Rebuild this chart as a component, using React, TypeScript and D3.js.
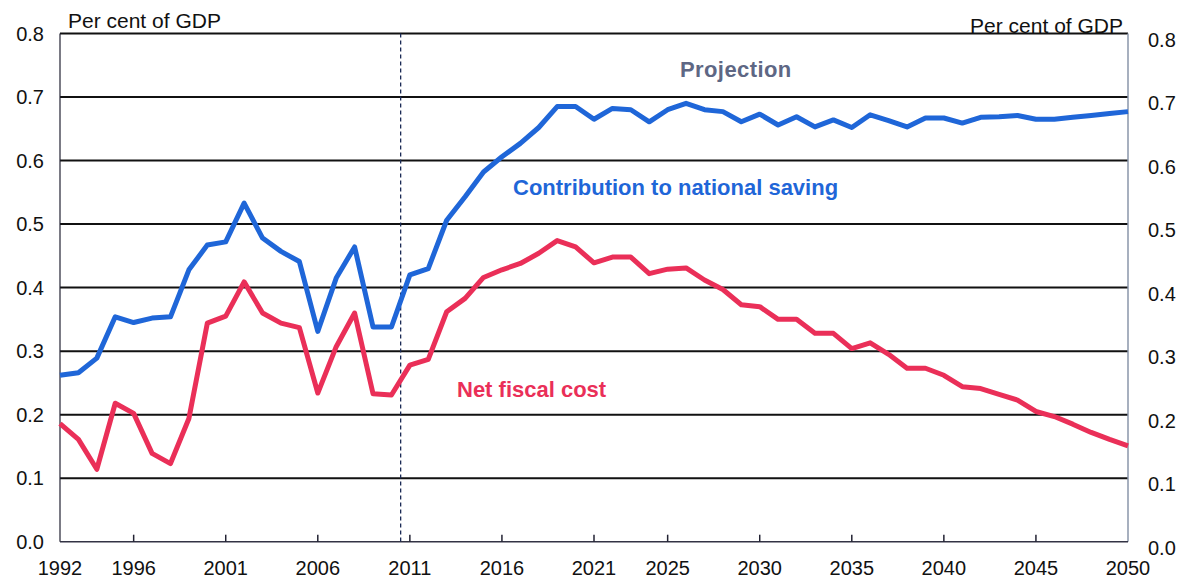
import React from "react";
import * as d3 from "d3";

// Financial years, 1992 to 2050
const years: number[] = d3.range(1992, 2051);

const nationalSaving: number[] = [
  0.262, 0.266, 0.289, 0.354, 0.345, 0.352, 0.354, 0.428, 0.467, 0.472,
  0.533, 0.478, 0.457, 0.441, 0.331, 0.415, 0.464, 0.338, 0.338, 0.42,
  0.43, 0.506, 0.543, 0.582, 0.606, 0.627, 0.652, 0.685, 0.685, 0.665,
  0.682, 0.68, 0.661, 0.68, 0.69, 0.68, 0.677, 0.661, 0.673, 0.656,
  0.669, 0.653, 0.664, 0.652, 0.672, 0.663, 0.653, 0.667, 0.667, 0.659,
  0.668, 0.669, 0.671, 0.665, 0.665, 0.668, 0.671, 0.674, 0.677,
];

const netFiscalCost: number[] = [
  0.186, 0.161, 0.114, 0.218, 0.202, 0.139, 0.123, 0.194, 0.344, 0.355,
  0.409, 0.36, 0.344, 0.337, 0.234, 0.307, 0.36, 0.233, 0.231, 0.278,
  0.287, 0.362, 0.383, 0.416, 0.428, 0.438, 0.454, 0.474, 0.464, 0.439,
  0.448, 0.448, 0.422, 0.429, 0.431, 0.412, 0.397, 0.373, 0.37, 0.35,
  0.35, 0.328, 0.328, 0.304, 0.313, 0.295, 0.273, 0.273, 0.262, 0.244,
  0.241, 0.232, 0.223, 0.205, 0.197, 0.185, 0.172, 0.161, 0.151,
];

const xTicks: number[] = [
  1992, 1996, 2001, 2006, 2011, 2016, 2021, 2025, 2030, 2035, 2040, 2045, 2050,
];
const yTicks: number[] = [0, 0.1, 0.2, 0.3, 0.4, 0.5, 0.6, 0.7, 0.8];
const projectionStart = 2010.5;

const W = 1187;
const H = 585;
const FONT = "'Liberation Sans', Arial, sans-serif";
const BLUE = "#1f66d8";
const RED = "#ea2f58";

export default function App() {
  const x = d3.scaleLinear().domain([1992, 2050]).range([60, 1128]);
  const y = d3.scaleLinear().domain([0, 0.8]).range([541.7, 33.5]);

  const line = d3
    .line<number>()
    .x((_, i) => x(years[i]))
    .y((d) => y(d));

  const left = x(1992);
  const right = x(2050);
  const bottom = y(0);
  const top = y(0.8);

  return (
    <div style={{ position: "absolute", left: 0, top: 0 }}>
      <svg width={W} height={H} style={{ display: "block", background: "#fff" }}>
        {/* horizontal grid lines */}
        {yTicks
          .filter((t) => t > 0)
          .map((t) => (
            <line
              key={t}
              x1={left}
              x2={right}
              y1={y(t)}
              y2={y(t)}
              stroke="#111"
              strokeWidth={2}
            />
          ))}

        {/* frame */}
        <line x1={left} x2={left} y1={top} y2={bottom} stroke="#223" strokeWidth={1.2} />
        <line x1={right} x2={right} y1={top} y2={bottom} stroke="#8a96aa" strokeWidth={1.5} />
        <line x1={left} x2={right} y1={bottom} y2={bottom} stroke="#334" strokeWidth={1.5} />

        {/* x ticks */}
        {xTicks
          .filter((t) => t !== 1992 && t !== 2050)
          .map((t) => (
            <line
              key={t}
              x1={x(t)}
              x2={x(t)}
              y1={bottom}
              y2={bottom - 7}
              stroke="#223"
              strokeWidth={1.5}
            />
          ))}

        {/* projection divider */}
        <line
          x1={x(projectionStart)}
          x2={x(projectionStart)}
          y1={top}
          y2={bottom}
          stroke="#1a2a55"
          strokeWidth={1.3}
          strokeDasharray="4,3"
        />

        {/* series */}
        <path
          d={line(netFiscalCost) ?? ""}
          fill="none"
          stroke={RED}
          strokeWidth={5}
          strokeLinejoin="round"
        />
        <path
          d={line(nationalSaving) ?? ""}
          fill="none"
          stroke={BLUE}
          strokeWidth={5}
          strokeLinejoin="round"
        />

        {/* tick labels */}
        <g fontFamily={FONT} fontSize={20} fill="#111">
          {yTicks.map((t) => (
            <text key={"l" + t} x={44} y={y(t)} dy="0.36em" textAnchor="end">
              {t.toFixed(1)}
            </text>
          ))}
          {yTicks.map((t) => (
            <text key={"r" + t} x={1148} y={y(t) + 6} dy="0.36em" textAnchor="start">
              {t.toFixed(1)}
            </text>
          ))}
          {xTicks.map((t) => (
            <text key={"x" + t} x={x(t)} y={575} textAnchor="middle">
              {t}
            </text>
          ))}
        </g>

        {/* axis titles */}
        <g fontFamily={FONT} fontSize={21} fill="#111">
          <text x={68} y={28}>
            Per cent of GDP
          </text>
          <text x={1123} y={33} textAnchor="end">
            Per cent of GDP
          </text>
        </g>

        {/* annotations */}
        <g fontFamily={FONT} fontSize={22} fontWeight="bold">
          <text x={680} y={77} fill="#5e6784" letterSpacing={0.4}>
            Projection
          </text>
          <text x={513} y={195} fill={BLUE}>
            Contribution to national saving
          </text>
          <text x={457} y={397} fill={RED}>
            Net fiscal cost
          </text>
        </g>
      </svg>
    </div>
  );
}
